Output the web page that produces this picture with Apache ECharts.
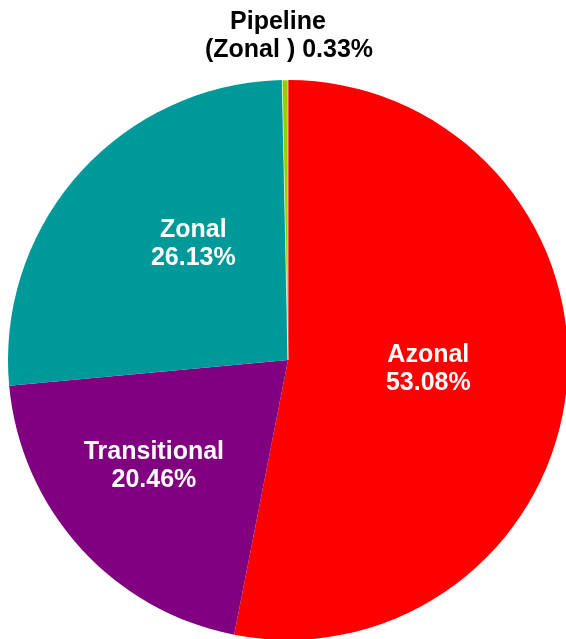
<!DOCTYPE html>
<html><head><meta charset="utf-8">
<script src="https://cdn.jsdelivr.net/npm/echarts@6/dist/echarts.min.js"></script>
<style>html,body{margin:0;padding:0;background:#fff}#c{width:566px;height:639px}</style>
</head><body><div id="c"></div>
<script>
var categories = ['Azonal', 'Transitional', 'Zonal', 'Pipeline\n(Zonal )'];
var values = [53.08, 20.46, 26.13, 0.33];
var colors = ['#FF0000', '#800080', '#009999', '#99CC00'];
var labelShift = [[-2, -5], [-28, 10], [12, -21], [0, 0]];

var chart = echarts.init(document.getElementById('c'));
var font = { fontFamily: 'Liberation Sans, Arial, sans-serif', fontWeight: 'bold', fontSize: 25, lineHeight: 28 };
var data = categories.map(function (c, i) {
  var d = { name: c, value: values[i], itemStyle: { color: colors[i] } };
  if (i === 3) {
    d.label = {
      position: 'outside', color: '#000',
      formatter: function (p) {
        var parts = p.name.split('\n');
        return '{a|' + parts[0] + '}\n{b|' + parts[1] + ' ' + p.value.toFixed(2) + '%}';
      },
      rich: {
        a: Object.assign({ color: '#000', padding: [0, 22, 0, 0] }, font),
        b: Object.assign({ color: '#000' }, font)
      }
    };
    d.labelLine = { show: false };
    d.itemStyle.borderColor = '#fff';
    d.itemStyle.borderWidth = 0.6;
  }
  return d;
});
chart.setOption({
  animation: false,
  series: [{
    type: 'pie',
    center: [288, 360],
    radius: [0, 280],
    startAngle: 90,
    clockwise: true,
    avoidLabelOverlap: false,
    itemStyle: { borderWidth: 0 },
    label: Object.assign({
      show: true,
      position: 'inside',
      color: '#fff',
      formatter: function (p) { return p.name + '\n' + p.value.toFixed(2) + '%'; }
    }, font),
    labelLine: { show: false },
    labelLayout: function (p) {
      if (p.dataIndex === 3) {
        return { x: 289, y: 36, align: 'center', verticalAlign: 'middle' };
      }
      return { dx: labelShift[p.dataIndex][0], dy: labelShift[p.dataIndex][1] };
    },
    data: data
  }]
});
</script></body></html>
